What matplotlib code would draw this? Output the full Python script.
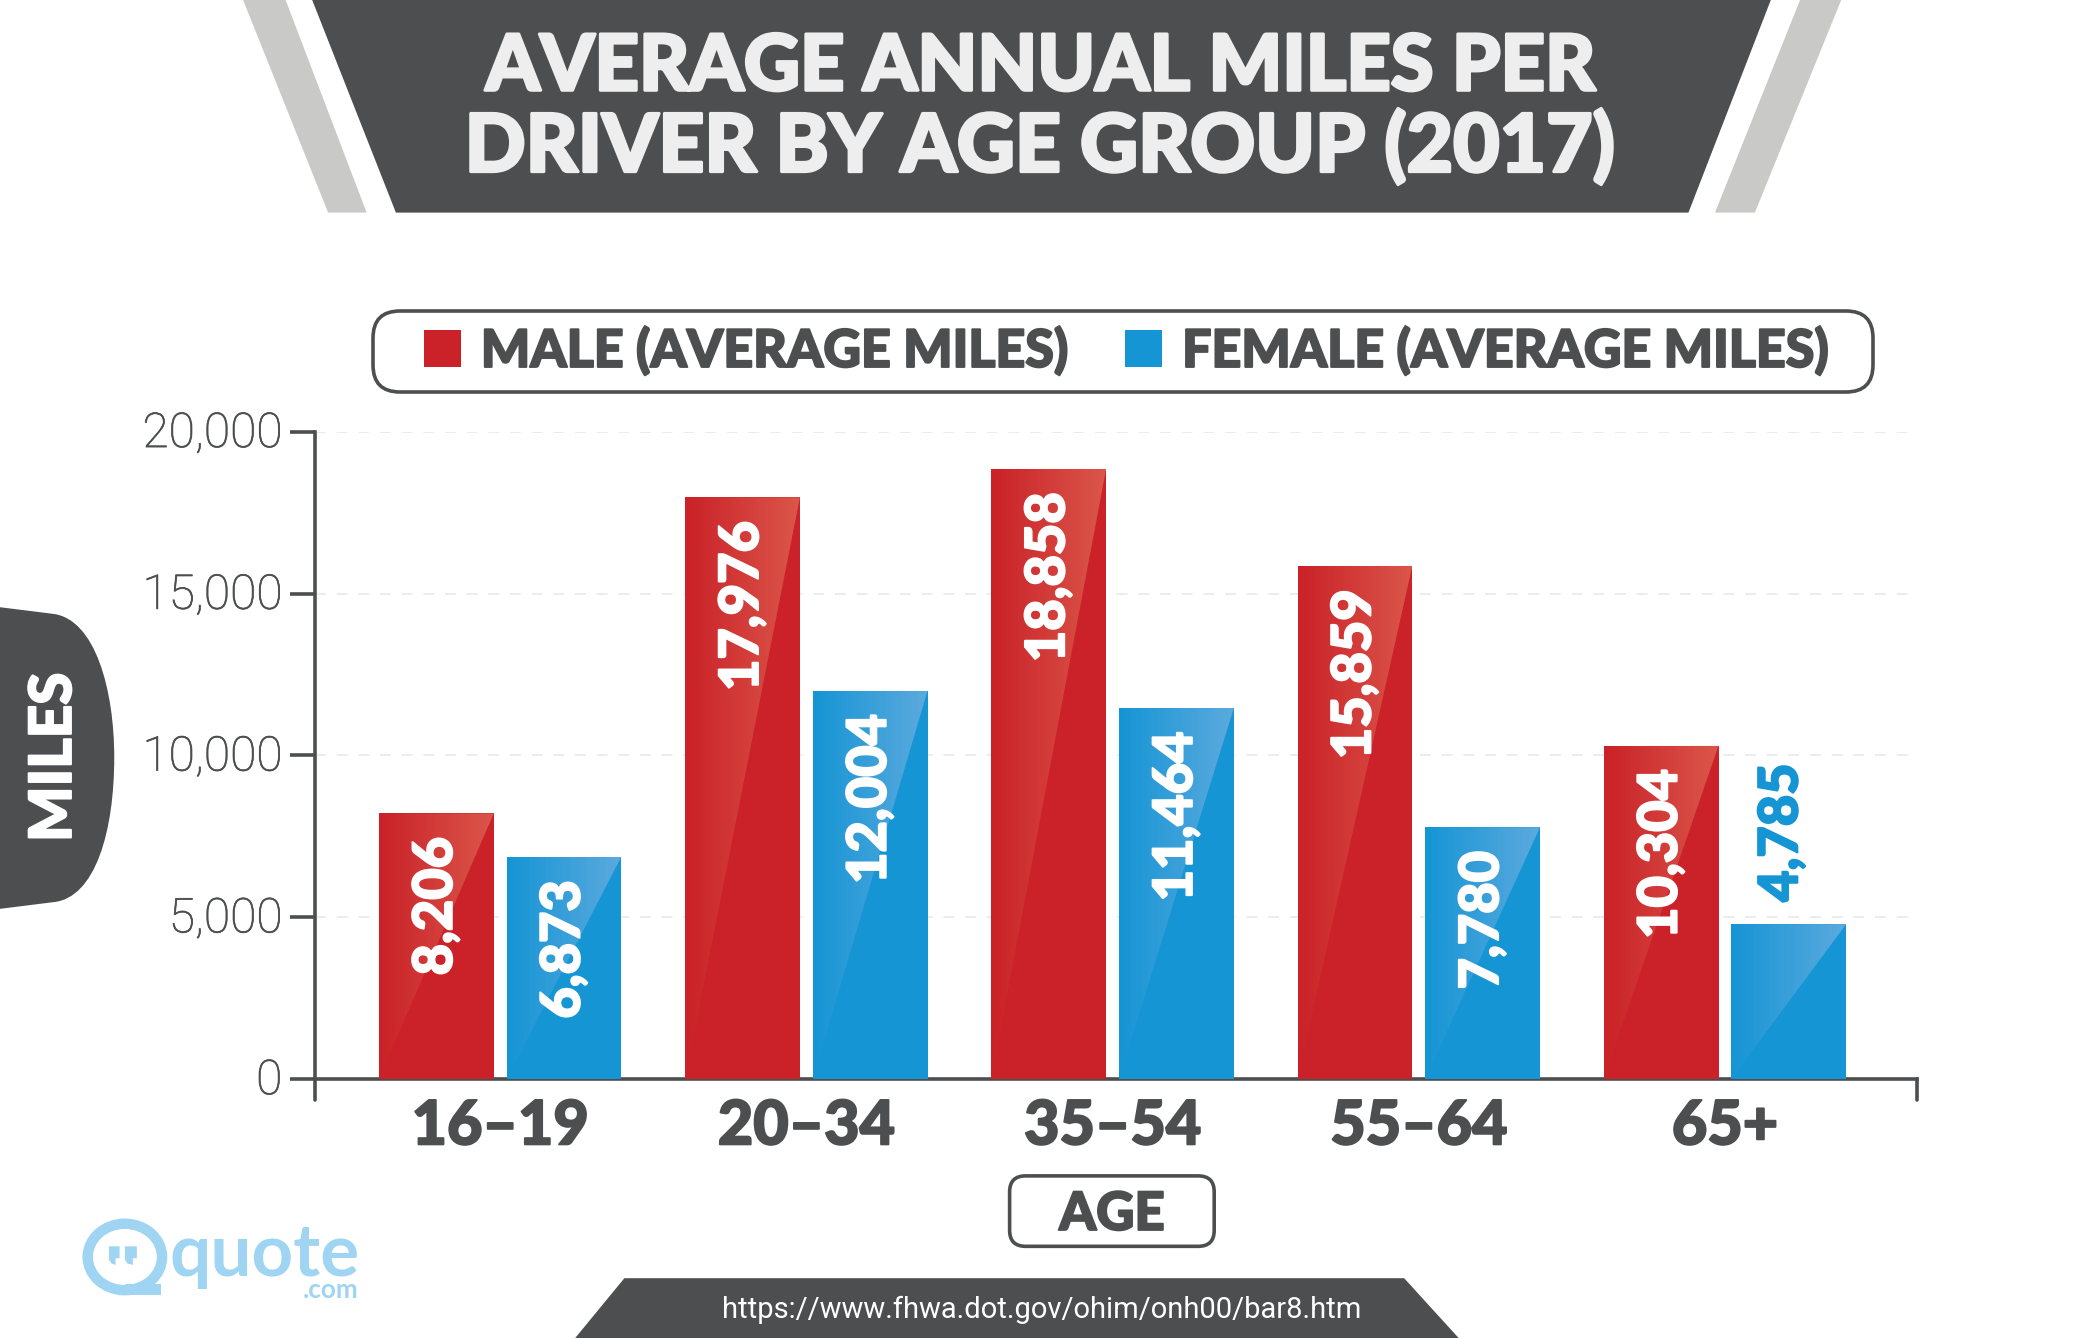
import numpy as np
import matplotlib
matplotlib.use('Agg')
import matplotlib.pyplot as plt
import matplotlib.patheffects as pe
from matplotlib.patches import Polygon, FancyBboxPatch, Ellipse, Rectangle, PathPatch, BoxStyle
from matplotlib.path import Path
from matplotlib.font_manager import FontProperties
from matplotlib.transforms import ScaledTranslation

# ---------- data ----------
age_groups = ['16–19', '20–34', '35–54', '55–64', '65+']
male_miles = [8206, 17976, 18858, 15859, 10304]
female_miles = [6873, 12004, 11464, 7780, 4785]
y_ticks = [0, 5000, 10000, 15000, 20000]
title_lines = ['AVERAGE ANNUAL MILES PER', 'DRIVER BY AGE GROUP (2017)']
legend_labels = ['MALE (AVERAGE MILES)', 'FEMALE (AVERAGE MILES)']
source_text = 'https://www.fhwa.dot.gov/ohim/onh00/bar8.htm'

# ---------- style ----------
DARK = '#4D4E50'
STRIP = '#C9CAC8'
RED = '#CA2228'
BLUE = '#1695D5'
LOGO = '#9FD4F2'
W, H = 2083, 1338
DPI = 100
RW, RH = 1568.0, 1007.0  # layout grid

heavy = FontProperties(family='Lato', weight='black')
light = FontProperties(family='Roboto', weight='light')
regular = FontProperties(family='Roboto', weight='regular')
logo_font = FontProperties(family='Lato', weight='bold')

fig = plt.figure(figsize=(W / DPI, H / DPI), dpi=DPI, facecolor='white')
ax = fig.add_axes([237 / RW, (RH - 812) / RH, (1443 - 237) / RW, (812 - 325) / RH])
ov = fig.add_axes([0, 0, 1, 1], zorder=5)
ov.set_xlim(0, RW)
ov.set_ylim(RH, 0)
ov.axis('off')
ov.patch.set_alpha(0)
renderer = fig.canvas.get_renderer()


def fit(t, length):
    """Scale a text so its long side spans length layout units."""
    e = t.get_window_extent(renderer)
    t.set_fontsize(t.get_fontsize() * (length * W / RW) / max(e.width, e.height))


def thick(t, color, w=1.4):
    """Thicken a text's strokes, the reference typeface is very heavy."""
    t.set_path_effects([pe.withStroke(linewidth=w, foreground=color)])


def poly(pts, color, a=ov, z=1):
    a.add_patch(Polygon(pts, closed=True, fc=color, ec='none', zorder=z))


# ---------- bars ----------
x = np.arange(len(age_groups))
bar_w = 0.375
off = 0.2085
male_bars = ax.bar(x - off, male_miles, bar_w, color=RED, zorder=3, label=legend_labels[0])
female_bars = ax.bar(x + off, female_miles, bar_w, color=BLUE, zorder=3, label=legend_labels[1])


def gloss(rgb, top):
    g = np.ones((1, 64, 4))
    g[..., 0], g[..., 1], g[..., 2] = rgb
    g[..., 3] = np.linspace(0.0, top, 64)
    return g


for bars, grad in ((male_bars, gloss((1.0, 0.78, 0.58), 0.32)), (female_bars, gloss((1.0, 0.86, 0.95), 0.30))):
    for b in bars:
        x0, x1, h = b.get_x(), b.get_x() + b.get_width(), b.get_height()
        im = ax.imshow(grad, extent=[x0, x1, 0, h], aspect='auto', zorder=4, interpolation='bilinear')
        im.set_clip_path(Polygon([(x0, 0), (x1, h), (x0, h)], closed=True, transform=ax.transData))

ax.set_xlim((237 - 376.5) / 230.5, (1443 - 376.5) / 230.5)
ax.set_ylim(0, 20000)
ax.set_yticks(y_ticks)
ax.set_yticklabels([f'{v:,}' for v in y_ticks], fontproperties=light, fontsize=34.5, color=DARK)
ax.tick_params(axis='y', length=18, width=2.6, color=DARK, pad=5.5)
lift = ScaledTranslation(0, 2 / 72, fig.dpi_scale_trans)
for lab in ax.get_yticklabels():
    lab.set_transform(lab.get_transform() + lift)
    thick(lab, DARK, 0.5)
ax.set_xticks(x)
ax.set_xticklabels(age_groups, fontproperties=heavy, fontsize=44, color=DARK)
for lab in ax.get_xticklabels():
    thick(lab, DARK)
ax.tick_params(axis='x', length=0, pad=14)
for s in ('top', 'right'):
    ax.spines[s].set_visible(False)
for s in ('left', 'bottom'):
    ax.spines[s].set_color(DARK)
    ax.spines[s].set_linewidth(2.6)
ax.yaxis.grid(True, color='#EBEBEB', lw=1.3, ls=(0, (6, 6)), zorder=1)
ax.set_axisbelow(True)

# value labels
for bars, vals in ((male_bars, male_miles), (female_bars, female_miles)):
    for b, v in zip(bars, vals):
        cx = b.get_x() + b.get_width() / 2
        if v < 6000:
            a = ax.annotate(f'{v:,}', (cx, v), xytext=(-5, 16), textcoords='offset points', rotation=90,
                            ha='center', va='bottom', color=BLUE, fontproperties=heavy, fontsize=39, zorder=6)
            thick(a, BLUE)
        else:
            a = ax.annotate(f'{v:,}', (cx, v), xytext=(0, -17), textcoords='offset points', rotation=90,
                            ha='center', va='top', color='white', fontproperties=heavy, fontsize=39, zorder=6)
            thick(a, 'white')

# axis end ticks
ov.plot([237, 237], [812, 828], color=DARK, lw=2.6, solid_capstyle='round')
ov.plot([1443, 1443], [812, 828], color=DARK, lw=2.6, solid_capstyle='round')

# ---------- title banner ----------
poly([(235, 0), (1333, 0), (1271, 160), (298, 160)], DARK)
poly([(183, 0), (215, 0), (276, 160), (247, 160)], STRIP)
poly([(1355, 0), (1386, 0), (1321, 160), (1291, 160)], STRIP)
t1 = ov.text(783, 51, title_lines[0], ha='center', va='center', color='#EEEEEE', fontproperties=heavy, fontsize=60)
fit(t1, 836)
thick(t1, '#EEEEEE', 2.2)
t2 = ov.text(783, 111, title_lines[1], ha='center', va='center', color='#EEEEEE', fontproperties=heavy, fontsize=60)
fit(t2, 866)
thick(t2, '#EEEEEE', 2.2)

# ---------- legend ----------
fs = 37.4
leg = ax.legend(handles=[male_bars, female_bars], labels=legend_labels, ncol=2, loc='center',
                bbox_to_anchor=(847.5 / RW, (RH - 264.5) / RH), bbox_transform=fig.transFigure,
                prop=FontProperties(family='Lato', weight='black', size=fs), labelcolor=DARK,
                frameon=True, fancybox=True, framealpha=1, edgecolor=DARK, facecolor='white',
                handlelength=0.717, handleheight=0.717, handletextpad=0.385, columnspacing=1.1,
                borderpad=0.3, borderaxespad=0)
for lt in leg.get_texts():
    thick(lt, DARK)


class WideRound:
    """Rounded frame that extends past the legend contents left and right."""
    inner = BoxStyle.Round(pad=0, rounding_size=0.52)

    def __call__(self, x0, y0, width, height, mutation_size):
        dx = 36 * W / RW - 0.3 * mutation_size
        return self.inner(x0 - dx - 2 * W / RW, y0, width + 2 * dx, height, mutation_size)


leg.get_frame().set_linewidth(2.6)
leg.get_frame().set_boxstyle(WideRound())
leg.set_zorder(10)

# ---------- MILES tab ----------
verts = [(0, 457), (40, 462), (72, 466), (86, 520), (86, 570), (86, 625), (72, 676), (40, 679), (0, 684), (0, 457)]
codes = [Path.MOVETO, Path.LINETO, Path.CURVE4, Path.CURVE4, Path.CURVE4, Path.CURVE4, Path.CURVE4, Path.CURVE4,
         Path.LINETO, Path.CLOSEPOLY]
ov.add_patch(PathPatch(Path(verts, codes), fc=DARK, ec='none'))
t = ov.text(41, 570, 'MILES', rotation=90, ha='center', va='center', color='white', fontproperties=heavy, fontsize=36)
fit(t, 127)
thick(t, 'white')

# ---------- AGE box ----------
ov.add_patch(FancyBboxPatch((760, 885), 154, 53, boxstyle='round,pad=0,rounding_size=12', fc='white', ec=DARK, lw=2.6))
t = ov.text(837, 914, 'AGE', ha='center', va='center', color=DARK, fontproperties=heavy, fontsize=38)
thick(t, DARK)

# ---------- source banner ----------
poly([(470, 962), (1057, 962), (1098, 1007), (433, 1007)], DARK)
t = ov.text(784, 986, source_text, ha='center', va='center', color='white', fontproperties=regular, fontsize=20)
fit(t, 482)

# ---------- logo ----------
ov.add_patch(Ellipse((94, 946), 56, 50, fc='none', ec=LOGO, lw=7.5))
ov.add_patch(Rectangle((94, 966), 27, 9, fc=LOGO, ec='none'))
poly([(82, 938), (90, 938), (90, 947), (87, 947), (87, 952), (84, 951), (82, 948)], LOGO)
poly([(94, 938), (103, 938), (103, 947), (100, 947), (100, 952), (96, 951), (94, 948)], LOGO)
t = ov.text(199, 945, 'quote', ha='center', va='center', color=LOGO, fontproperties=logo_font, fontsize=60)
fit(t, 143)
t = ov.text(249, 971, '.com', ha='center', va='center', color=LOGO, fontproperties=logo_font, fontsize=16)
fit(t, 42)

fig.savefig('out.png', dpi=DPI, facecolor='white')
